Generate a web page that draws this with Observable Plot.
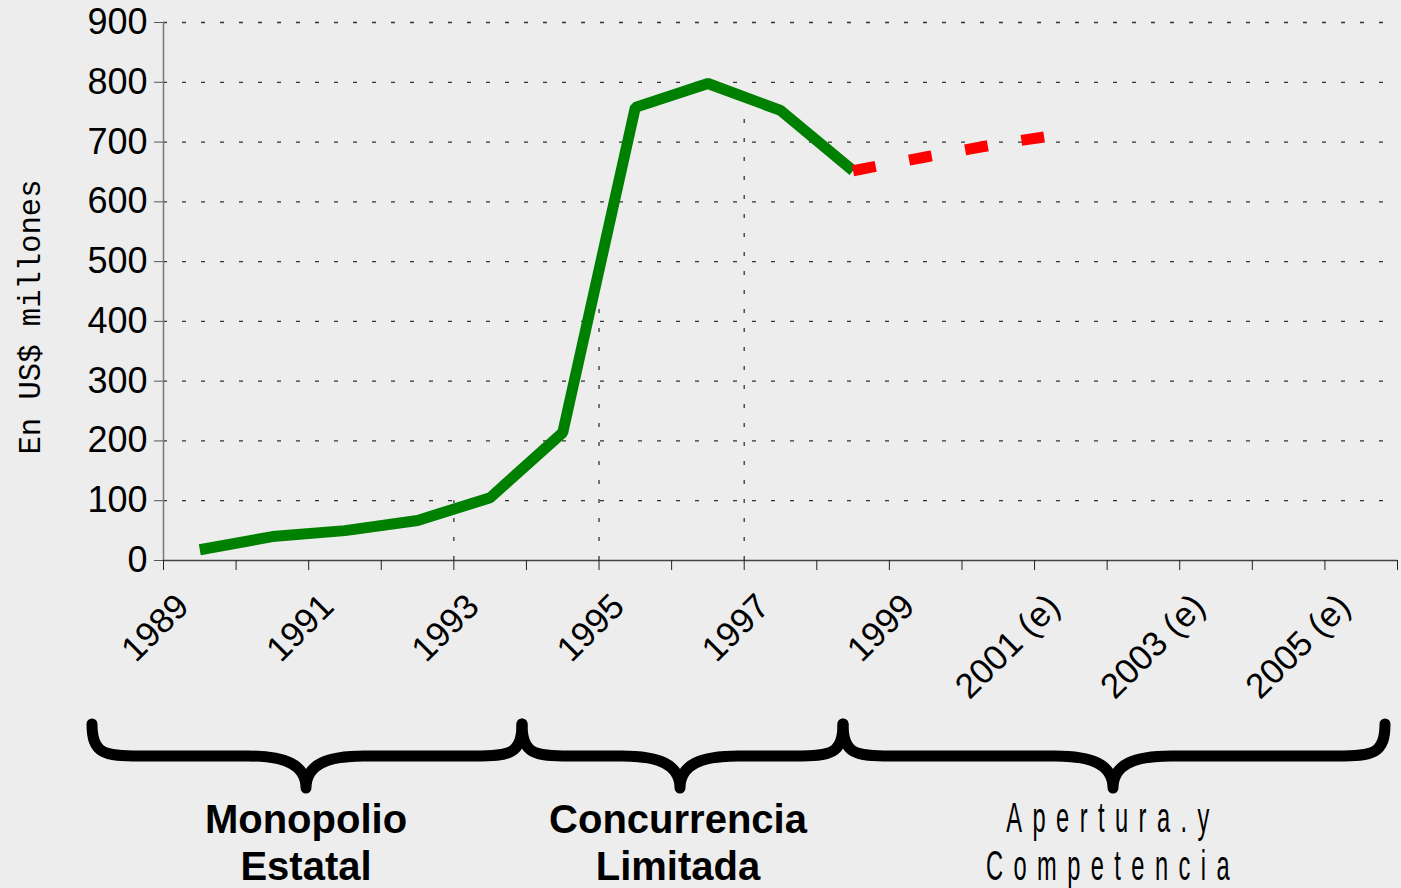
<!DOCTYPE html>
<html><head><meta charset="utf-8">
<script src="https://cdn.jsdelivr.net/npm/d3@7"></script>
<script src="https://cdn.jsdelivr.net/npm/@observablehq/plot@0.6"></script>
<style>
html,body{margin:0;padding:0;background:#ededed;}
#chart{position:relative;width:1401px;height:888px;overflow:hidden;}
</style></head><body><div id="chart"></div>
<script>
// ---- data ----
const years = [1989,1990,1991,1992,1993,1994,1995,1996,1997,1998,1999,2000,2001,2002,2003,2004,2005];
const labelYears = [1989,1991,1993,1995,1997,1999,2001,2003,2005];
const labelTexts = ["1989","1991","1993","1995","1997","1999","2001 (e)","2003 (e)","2005 (e)"];
const actualYears = [1989,1990,1991,1992,1993,1994,1995,1996,1997,1998];
const actualValues = [18,40,50,67,105,214,758,798,753,652];
const estimateYears = [1998,1999,2000,2001];
const estimateValues = [652,675,697,715];
const dropYears = [1992.5,1994.5,1996.5];
const dropValues = [100,435,740];
const yTicks = [0,100,200,300,400,500,600,700,800,900];
const yLabel = "En US$ millones";
const periodLabels = [["Monopolio","Estatal"],["Concurrencia","Limitada"],["Apertura.y","Competencia"]];

// ---- build ----
const actual = actualYears.map((x,i)=>({x, y: actualValues[i]}));
const estimate = estimateYears.map((x,i)=>({x, y: estimateValues[i]}));
const drops = dropYears.map((x,i)=>({x, top: dropValues[i]}));
const boundaries = years.map(y=>y-0.5).concat([years[years.length-1]+0.5]);
const labelMap = new Map(labelYears.map((y,i)=>[y,labelTexts[i]]));

const plot = Plot.plot({
  width:1401, height:888,
  marginLeft:163, marginRight:4, marginTop:22, marginBottom:328,
  style:{background:"transparent", fontFamily:"'Liberation Sans', Arial, sans-serif", color:"#000", overflow:"visible"},
  x:{type:"linear", domain:[boundaries[0], boundaries[boundaries.length-1]]},
  y:{domain:[0,900]},
  marks:[
    Plot.gridY(yTicks.slice(1), {stroke:"#333", strokeOpacity:1, strokeWidth:1.3, strokeDasharray:"4,15"}),
    Plot.ruleX(drops, {x:"x", y1:()=>0, y2:"top", stroke:"#333", strokeWidth:1.3, strokeDasharray:"4,15"}),
    Plot.axisY(yTicks, {tickSize:9, tickPadding:7, fontSize:36, label:null, stroke:"#555"}),
    Plot.ruleX([boundaries[0]], {stroke:"#777", strokeWidth:1.5}),
    Plot.ruleY([0], {stroke:"#444", strokeWidth:1.5}),
    Plot.axisX(boundaries, {tickSize:10, tickFormat:()=>"", label:null, stroke:"#222"}),
    Plot.axisX(labelYears, {tickSize:0, tickPadding:40, tickRotate:-45, fontSize:35, dx:-17, label:null, tickFormat:d=>labelMap.get(d)}),
    Plot.line(actual, {x:"x", y:"y", stroke:"#008000", strokeWidth:11, strokeLinejoin:"miter", strokeLinecap:"butt"}),
    Plot.line(estimate, {x:"x", y:"y", stroke:"#ff0000", strokeWidth:11, strokeLinejoin:"miter", strokeLinecap:"butt", strokeDasharray:"23,34"})
  ]
});
document.getElementById("chart").appendChild(plot);

// ---- annotations (y label, period braces and labels) ----
const svg = d3.select(plot);
svg.append("text")
  .attr("transform","translate(40,317) rotate(-90)")
  .attr("text-anchor","middle")
  .attr("font-family","'Liberation Mono', 'DejaVu Sans Mono', monospace")
  .attr("font-size",32)
  .attr("textLength",275).attr("lengthAdjust","spacingAndGlyphs")
  .attr("fill","#000")
  .text(yLabel);

function bracePath(x0, x1, tip, top, mid, bot){
  return `M${x0},${top} C${x0},${mid-2} ${x0+12},${mid} ${x0+48},${mid} L${tip-58},${mid} C${tip-22},${mid} ${tip},${mid+8} ${tip},${bot}` +
         ` M${x1},${top} C${x1},${mid-2} ${x1-12},${mid} ${x1-48},${mid} L${tip+58},${mid} C${tip+22},${mid} ${tip},${mid+8} ${tip},${bot}`;
}
const braces = [[92,522,306],[522,843,680],[843,1385,1113]];
braces.forEach(([a,b,t])=>{
  svg.append("path").attr("d", bracePath(a,b,t,724,756,788))
    .attr("fill","none").attr("stroke","#000").attr("stroke-width",11)
    .attr("stroke-linecap","round").attr("stroke-linejoin","round");
});
const centers = [306, 678, 1108];
periodLabels.forEach((lines,i)=>{
  if (i < 2) {
    lines.forEach((ln,j)=>{
      svg.append("text").attr("x",centers[i]).attr("y",833+j*47)
        .attr("text-anchor","middle").attr("font-family","'Liberation Sans', Arial, sans-serif")
        .attr("font-weight","bold").attr("font-size",40).attr("fill","#000").text(ln);
    });
  } else {
    lines.forEach((ln,j)=>{
      svg.append("text").attr("transform",`translate(${centers[i]+5},${832+j*48}) scale(0.55,1)`)
        .attr("text-anchor","middle").attr("font-family","'Liberation Sans', Arial, sans-serif")
        .attr("font-size",43).attr("letter-spacing","19px").attr("fill","#000").text(ln);
    });
  }
});
</script></body></html>
